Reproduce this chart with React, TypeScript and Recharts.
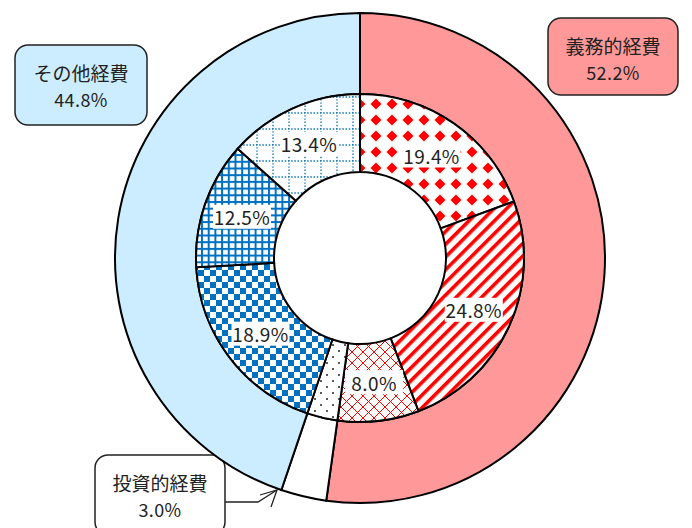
import * as React from "react"
import { PieChart, Pie, Cell } from "recharts"

// outer ring: 3 main categories
const mainNames = ["義務的経費", "投資的経費", "その他経費"]
const mainValues = [52.2, 3.0, 44.8]

// inner ring: breakdown
const subValues = [19.4, 24.8, 8.0, 3.0, 18.9, 12.5, 13.4]
const subShowLabel = [true, true, true, false, true, true, true]

const mainData = mainNames.map((name, i) => ({ name, value: mainValues[i] }))
const subData = subValues.map((value, i) => ({ name: `s${i}`, value }))

const mainFills = ["#FF9999", "#FFFFFF", "#CCECFF"]
const subFills = [
  "url(#pDiamond)",
  "url(#pStripe)",
  "url(#pLattice)",
  "url(#pDots)",
  "url(#pChecker)",
  "url(#pGrid)",
  "url(#pDotGrid)",
]

const RED = "#FF0000"
const BLUE = "#0070C0"
const FONT = "'Noto Sans CJK JP', 'Noto Sans', sans-serif"
const RADIAN = Math.PI / 180

const CX = 355
const CY = 253

function InnerLabel(props: any) {
  const { cx, cy, midAngle, innerRadius, outerRadius, value, index } = props
  if (!subShowLabel[index]) return null
  const r = (innerRadius + outerRadius) / 2
  const x = cx + r * Math.cos(-midAngle * RADIAN)
  const y = cy + r * Math.sin(-midAngle * RADIAN)
  const text = `${Number(value).toFixed(1)}%`
  return (
    <g>
      <rect x={x - 29} y={y - 12} width={58} height={24} fill="#fff" />
      <text
        x={x}
        y={y}
        textAnchor="middle"
        dominantBaseline="central"
        fontFamily={FONT}
        fontSize={19}
        letterSpacing={0.4}
        fill="#222"
      >
        {text}
      </text>
    </g>
  )
}

function Box({ x, y, w, h, fill, title, value }: any) {
  return (
    <g>
      <rect x={x} y={y} width={w} height={h} rx={13} fill={fill} stroke="#222" strokeWidth={1.5} />
      <text x={x + w / 2} y={y + 27} textAnchor="middle" dominantBaseline="central" fontFamily={FONT} fontSize={19} fill="#222">
        {title}
      </text>
      <text x={x + w / 2} y={y + 54} textAnchor="middle" dominantBaseline="central" fontFamily={FONT} fontSize={18} letterSpacing={0.4} fill="#222">
        {value}
      </text>
    </g>
  )
}

export default function App() {
  return (
    <div style={{ position: "absolute", left: 0, top: 0, width: 692, height: 528, background: "#fff" }}>
      <PieChart width={692} height={528}>
        <defs>
          <pattern id="pDiamond" width={16} height={16} patternUnits="userSpaceOnUse">
            <rect width={16} height={16} fill="#fff" />
            <path d="M8 2.5 L13.5 8 L8 13.5 L2.5 8 Z" fill={RED} />
          </pattern>
          <pattern id="pStripe" width={9} height={9} patternUnits="userSpaceOnUse" patternTransform="rotate(45)">
            <rect width={9} height={9} fill="#fff" />
            <rect width={3.6} height={9} fill={RED} />
          </pattern>
          <pattern id="pLattice" width={11} height={11} patternUnits="userSpaceOnUse">
            <rect width={11} height={11} fill="#fff" />
            <path d="M0 0 L11 11 M11 0 L0 11" stroke={RED} strokeWidth={1} />
          </pattern>
          <pattern id="pDots" width={12} height={12} patternUnits="userSpaceOnUse">
            <rect width={12} height={12} fill="#fff" />
            <circle cx={3} cy={3} r={1} fill="#222" />
            <circle cx={9} cy={9} r={1} fill="#222" />
          </pattern>
          <pattern id="pChecker" width={12} height={12} patternUnits="userSpaceOnUse">
            <rect width={12} height={12} fill="#fff" />
            <rect width={6} height={6} fill={BLUE} />
            <rect x={6} y={6} width={6} height={6} fill={BLUE} />
          </pattern>
          <pattern id="pGrid" width={6.7} height={6.7} patternUnits="userSpaceOnUse">
            <rect width={6.7} height={6.7} fill="#fff" />
            <rect width={2} height={6.7} fill={BLUE} />
            <rect width={6.7} height={2} fill={BLUE} />
          </pattern>
          <pattern id="pDotGrid" width={16} height={16} patternUnits="userSpaceOnUse">
            <rect width={16} height={16} fill="#fff" />
            <path d="M1 0 V16 M0 1 H16" stroke={BLUE} strokeWidth={1.3} strokeDasharray="1.4 1.8" />
          </pattern>
        </defs>
        <Pie
          data={mainData}
          dataKey="value"
          cx={CX}
          cy={CY}
          innerRadius={164}
          outerRadius={245}
          startAngle={90}
          endAngle={-270}
          stroke="#000"
          strokeWidth={2}
          label={false}
          labelLine={false}
          isAnimationActive={false}
        >
          {mainData.map((d, i) => (
            <Cell key={d.name} fill={mainFills[i]} />
          ))}
        </Pie>
        <Pie
          data={subData}
          dataKey="value"
          cx={CX}
          cy={CY}
          innerRadius={86}
          outerRadius={164}
          startAngle={90}
          endAngle={-270}
          stroke="#000"
          strokeWidth={2}
          label={InnerLabel}
          labelLine={false}
          isAnimationActive={false}
        >
          {subData.map((d, i) => (
            <Cell key={d.name} fill={subFills[i]} />
          ))}
        </Pie>
        <Box x={548} y={18} w={130} h={77} fill={mainFills[0]} title={mainNames[0]} value={`${mainValues[0].toFixed(1)}%`} />
        <Box x={15} y={45} w={132} h={80} fill={mainFills[2]} title={mainNames[2]} value={`${mainValues[2].toFixed(1)}%`} />
        <Box x={95} y={455} w={130} h={80} fill={mainFills[1]} title={mainNames[1]} value={`${mainValues[1].toFixed(1)}%`} />
        <g fill="none" stroke="#222" strokeWidth={1.3}>
          <polyline points="225,502 258,502 277,490" />
          <polyline points="260,495 277,490 271,507" />
        </g>
      </PieChart>
    </div>
  )
}
